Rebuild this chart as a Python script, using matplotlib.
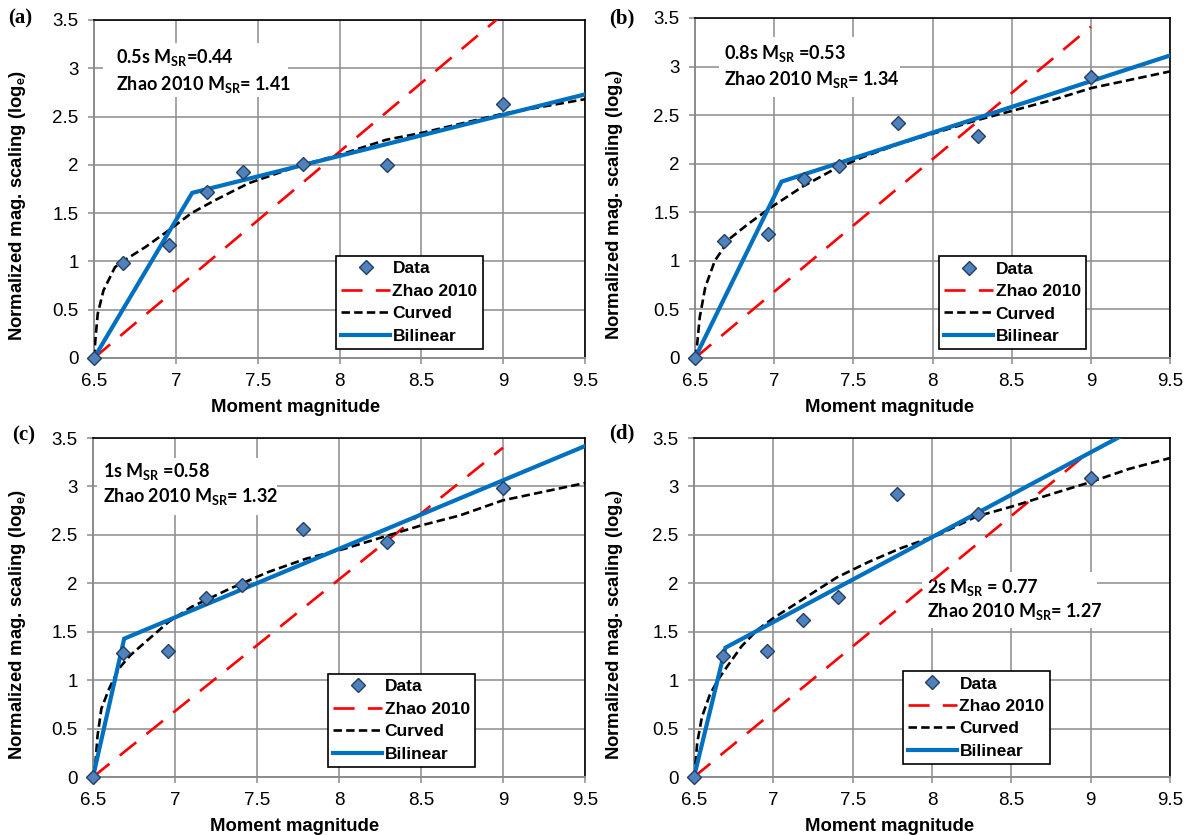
import matplotlib
matplotlib.use("Agg")
import matplotlib.pyplot as plt
from matplotlib.patches import Rectangle

plt.rcParams['font.family'] = ['Liberation Sans', 'DejaVu Sans']
plt.rcParams['mathtext.fontset'] = 'custom'
plt.rcParams['mathtext.rm'] = 'Lato'
plt.rcParams['mathtext.bf'] = 'Lato:bold'

# ---------------- data ----------------
# panel (a) 0.5 s
a_data_x = [6.5, 6.68, 6.96, 7.19, 7.41, 7.78, 8.29, 9.0]
a_data_y = [0.0, 0.98, 1.17, 1.72, 1.93, 2.01, 2.00, 2.63]
a_zhao_x = [6.5, 9.0]
a_zhao_y = [0.0, 3.56]
a_bil_x = [6.5, 7.10, 9.5]
a_bil_y = [0.0, 1.71, 2.73]
a_cur_x = [6.5, 6.51, 6.523, 6.558, 6.628, 6.675, 6.815, 6.955, 7.095, 7.235, 7.445, 7.77, 7.994, 8.286, 8.5, 9.0, 9.5]
a_cur_y = [0.0, 0.22, 0.46, 0.70, 0.94, 1.00, 1.15, 1.32, 1.50, 1.63, 1.81, 2.00, 2.10, 2.26, 2.33, 2.53, 2.68]

# panel (b) 0.8 s
b_data_x = [6.5, 6.68, 6.96, 7.19, 7.41, 7.78, 8.29, 9.0]
b_data_y = [0.0, 1.20, 1.275, 1.84, 1.98, 2.42, 2.286, 2.894]
b_zhao_x = [6.5, 9.0]
b_zhao_y = [0.0, 3.41]
b_bil_x = [6.5, 7.046, 9.5]
b_bil_y = [0.0, 1.815, 3.114]
b_cur_x = [6.5, 6.51, 6.53, 6.565, 6.625, 6.72, 6.84, 6.986, 7.178, 7.37, 7.563, 7.80, 8.044, 8.285, 8.525, 8.766, 9.006, 9.5]
b_cur_y = [0.0, 0.08, 0.42, 0.73, 1.00, 1.23, 1.385, 1.557, 1.763, 1.935, 2.07, 2.21, 2.33, 2.45, 2.554, 2.66, 2.78, 2.95]

# panel (c) 1 s
c_data_x = [6.5, 6.68, 6.96, 7.19, 7.41, 7.78, 8.29, 9.0]
c_data_y = [0.0, 1.284, 1.30, 1.848, 1.985, 2.557, 2.422, 2.983]
c_zhao_x = [6.5, 9.0]
c_zhao_y = [0.0, 3.40]
c_bil_x = [6.5, 6.69, 9.5]
c_bil_y = [0.0, 1.428, 3.417]
c_cur_x = [6.5, 6.512, 6.528, 6.551, 6.598, 6.657, 6.727, 6.82, 6.96, 7.10, 7.334, 7.568, 7.80, 8.035, 8.269, 8.502, 8.736, 8.998, 9.5]
c_cur_y = [0.0, 0.086, 0.43, 0.705, 0.91, 1.118, 1.256, 1.394, 1.60, 1.755, 1.944, 2.116, 2.254, 2.357, 2.478, 2.598, 2.70, 2.856, 3.035]

# panel (d) 2 s
d_data_x = [6.5, 6.68, 6.96, 7.19, 7.41, 7.78, 8.29, 9.0]
d_data_y = [0.0, 1.246, 1.297, 1.617, 1.858, 2.918, 2.715, 3.087]
d_zhao_x = [6.5, 9.0]
d_zhao_y = [0.0, 3.37]
d_bil_x = [6.5, 6.698, 9.5]
d_bil_y = [0.0, 1.335, 3.79]
d_cur_x = [6.5, 6.51, 6.52, 6.55, 6.6, 6.65, 6.7, 6.8, 6.9, 7.0, 7.2, 7.4, 7.6, 7.8, 8.04, 8.28, 8.52, 8.76, 9.0, 9.24, 9.5]
d_cur_y = [0.0, 0.15, 0.35, 0.62, 0.85, 1.00, 1.12, 1.35, 1.52, 1.64, 1.85, 2.06, 2.22, 2.36, 2.50, 2.69, 2.80, 2.925, 3.045, 3.18, 3.293]

panel_labels = ['(a)', '(b)', '(c)', '(d)']
ann_line1 = [r'0.5s M$_{\mathbf{SR}}$=0.44', r'0.8s M$_{\mathbf{SR}}$ =0.53',
             r'1s M$_{\mathbf{SR}}$ =0.58', r'2s M$_{\mathbf{SR}}$ = 0.77']
ann_line2 = [r'Zhao 2010 M$_{\mathbf{SR}}$= 1.41', r'Zhao 2010 M$_{\mathbf{SR}}$= 1.34',
             r'Zhao 2010 M$_{\mathbf{SR}}$= 1.32', r'Zhao 2010 M$_{\mathbf{SR}}$= 1.27']
legend_labels = ['Data', 'Zhao 2010', 'Curved', 'Bilinear']
x_ticks = [6.5, 7, 7.5, 8, 8.5, 9, 9.5]
x_ticklabels = ['6.5', '7', '7.5', '8', '8.5', '9', '9.5']
y_ticks = [0, 0.5, 1, 1.5, 2, 2.5, 3, 3.5]
y_ticklabels = ['0', '0.5', '1', '1.5', '2', '2.5', '3', '3.5']

panels = [
    (a_data_x, a_data_y, a_zhao_x, a_zhao_y, a_cur_x, a_cur_y, a_bil_x, a_bil_y),
    (b_data_x, b_data_y, b_zhao_x, b_zhao_y, b_cur_x, b_cur_y, b_bil_x, b_bil_y),
    (c_data_x, c_data_y, c_zhao_x, c_zhao_y, c_cur_x, c_cur_y, c_bil_x, c_bil_y),
    (d_data_x, d_data_y, d_zhao_x, d_zhao_y, d_cur_x, d_cur_y, d_bil_x, d_bil_y),
]

# ---------------- layout ----------------
W, H = 1194, 835
fig = plt.figure(figsize=(W / 100, H / 100), dpi=100)

ax_px = [(94, 20, 585, 358), (695, 18, 1170, 358), (93, 438, 585, 777), (694, 438, 1170, 777)]
label_px = [(8, 18), (609, 18), (12, 435), (609, 433)]
legend_anchor = [(0.493, 0.027), (0.514, 0.026), (0.478, 0.030), (0.439, 0.038)]
box_rect = [(0.018, 0.772, 0.377, 0.160), (0.050, 0.768, 0.382, 0.176),
            (0.008, 0.773, 0.366, 0.168), (0.479, 0.440, 0.368, 0.165)]
text_pos = [(0.045, 0.888, 0.808), (0.061, 0.897, 0.818), (0.020, 0.900, 0.826), (0.490, 0.560, 0.487)]

grid_col = '#8c8c8c'

for i, (l, t, r, b) in enumerate(ax_px):
    ax = fig.add_axes([l / W, 1 - b / H, (r - l) / W, (b - t) / H])
    dx, dy, zx, zy, cx, cy, bx, by = panels[i]
    ax.set_xlim(6.5, 9.5)
    ax.set_ylim(0, 3.5)
    ax.set_axisbelow(True)
    ax.grid(True, color=grid_col, lw=1.1)
    ax.set_xticks(x_ticks)
    ax.set_xticklabels(x_ticklabels)
    ax.set_yticks(y_ticks)
    ax.set_yticklabels(y_ticklabels)
    ax.tick_params(length=4, width=1.1, color=grid_col, labelsize=13.5, pad=7)
    for s in ['left', 'bottom']:
        ax.spines[s].set_color(grid_col)
        ax.spines[s].set_linewidth(1.4)
    for s in ['top', 'right']:
        ax.spines[s].set_color('black')
        ax.spines[s].set_linewidth(1.2)

    tx, ty1, ty2 = text_pos[i]
    bxr, byr, bw, bh = box_rect[i]
    ax.add_patch(Rectangle((bxr, byr), bw, bh, transform=ax.transAxes,
                           facecolor='white', edgecolor='none', zorder=1.5))
    ax.text(tx, ty1, ann_line1[i], transform=ax.transAxes, family='Lato',
            fontweight='bold', fontsize=13, va='center', ha='left', zorder=1.6)
    ax.text(tx, ty2, ann_line2[i], transform=ax.transAxes, family='Lato',
            fontweight='bold', fontsize=13, va='center', ha='left', zorder=1.6)

    h_zhao, = ax.plot(zx, zy, color='#ff0000', lw=1.9, dashes=(8, 5), zorder=3)
    h_cur, = ax.plot(cx, cy, color='black', lw=1.9, dashes=(3.2, 1.6), zorder=4)
    h_bil, = ax.plot(bx, by, color='#0070c0', lw=3.0, zorder=5, solid_joinstyle='miter')
    h_data, = ax.plot(dx, dy, ls='none', marker='D', ms=7, mfc='#4f81bd',
                      mec='#243f60', mew=1.0, zorder=6, clip_on=False)

    leg = ax.legend([h_data, h_zhao, h_cur, h_bil], legend_labels,
                    loc='lower left', bbox_to_anchor=legend_anchor[i], borderaxespad=0,
                    prop={'weight': 'bold', 'size': 12.5}, frameon=True, fancybox=False,
                    framealpha=1, edgecolor='black', handlelength=2.8, handletextpad=0.15,
                    labelspacing=0.42, borderpad=0.3)
    leg.get_frame().set_linewidth(1.2)
    leg.set_zorder(10)

    ax.set_xlabel('Moment magnitude', fontsize=13.3, fontweight='bold')
    ax.set_ylabel(r'Normalized mag. scaling (log$_{\mathbf{e}}$)', fontsize=13.3, fontweight='bold')
    ax.xaxis.set_label_coords(0.41, -0.12)
    ax.yaxis.set_label_coords((28 + (0 if i % 2 == 0 else 597) - l) / (r - l), 0.45)

    lx, ly = label_px[i]
    fig.text(lx / W, 1 - ly / H, panel_labels[i], family='Liberation Serif',
             fontweight='bold', fontsize=15, va='center', ha='left')

fig.savefig('out.png', dpi=100)
